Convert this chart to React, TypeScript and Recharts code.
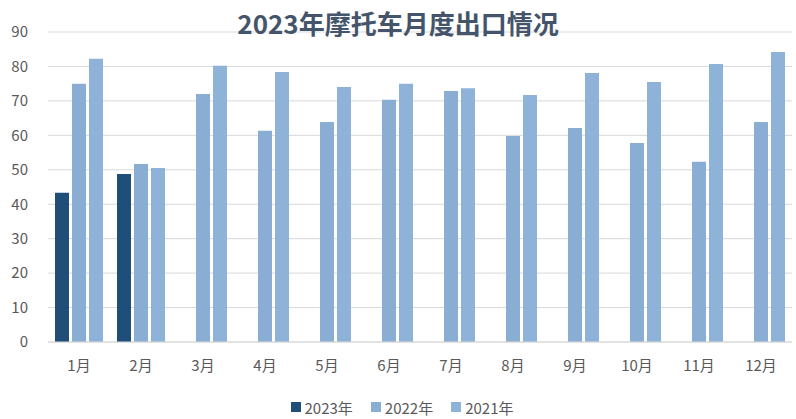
import React from "react";
import {
  BarChart,
  Bar,
  XAxis,
  YAxis,
  CartesianGrid,
  Legend,
} from "recharts";

const months = ["1月", "2月", "3月", "4月", "5月", "6月", "7月", "8月", "9月", "10月", "11月", "12月"];
const y2023 = [43.3, 48.8, null, null, null, null, null, null, null, null, null, null];
const y2022 = [75, 51.7, 72, 61.3, 63.9, 70.3, 72.9, 59.8, 62.1, 57.8, 52.3, 63.9];
const y2021 = [82.2, 50.5, 80.2, 78.4, 74, 75, 73.7, 71.7, 78.1, 75.5, 80.7, 84.2];
const yTicks = [0, 10, 20, 30, 40, 50, 60, 70, 80, 90];

const series = [
  { key: "2023年", color: "#1F4E79" },
  { key: "2022年", color: "#8AAED3" },
  { key: "2021年", color: "#8EB2D8" },
];

const data = months.map((m, i) => ({
  month: m,
  "2023年": y2023[i],
  "2022年": y2022[i],
  "2021年": y2021[i],
}));

const font = "'Noto Sans CJK SC', 'Noto Sans', sans-serif";

function LegendBox() {
  return (
    <div style={{ display: "flex", justifyContent: "center", gap: 18, fontSize: 15, color: "#595959", fontFamily: font, height: 24, alignItems: "center", paddingLeft: 8 }}>
      {series.map((s) => (
        <span key={s.key} style={{ display: "flex", alignItems: "center" }}>
          <span style={{ display: "inline-block", width: 10, height: 10, background: s.color, marginRight: 4 }} />
          {s.key}
        </span>
      ))}
    </div>
  );
}

export default function App() {
  return (
    <div style={{ position: "relative", width: 796, height: 419, background: "#fff", fontFamily: font }}>
      <style>{`body{margin:0}`}</style>
      <div
        style={{
          position: "absolute",
          top: 4,
          left: 0,
          width: 796,
          textAlign: "center",
          fontSize: 26,
          fontWeight: 700,
          color: "#44546A",
          zIndex: 1,
        }}
      >
        2023年摩托车月度出口情况
      </div>
      <BarChart
        width={796}
        height={419}
        data={data}
        margin={{ top: 32, right: 4, left: 0, bottom: 17 }}
        barSize={14}
        barGap={3}
      >
        <CartesianGrid vertical={false} stroke="#D9D9D9" />
        <XAxis
          dataKey="month"
          tickLine={false}
          axisLine={{ stroke: "#D9D9D9" }}
          tick={{ fontSize: 15, fill: "#595959", fontFamily: font }}
          tickMargin={12}
          height={36}
        />
        <YAxis
          domain={[0, 90]}
          ticks={yTicks}
          width={48}
          tickLine={false}
          axisLine={false}
          tickSize={0}
          tickMargin={20}
          tick={{ fontSize: 15, fill: "#595959", fontFamily: font }}
        />
        <Legend
          verticalAlign="bottom"
          content={() => <LegendBox />}
          wrapperStyle={{ top: 395, left: 0, width: 796 }}
        />
        {series.map((s) => (
          <Bar key={s.key} dataKey={s.key} fill={s.color} isAnimationActive={false} />
        ))}
      </BarChart>
    </div>
  );
}
